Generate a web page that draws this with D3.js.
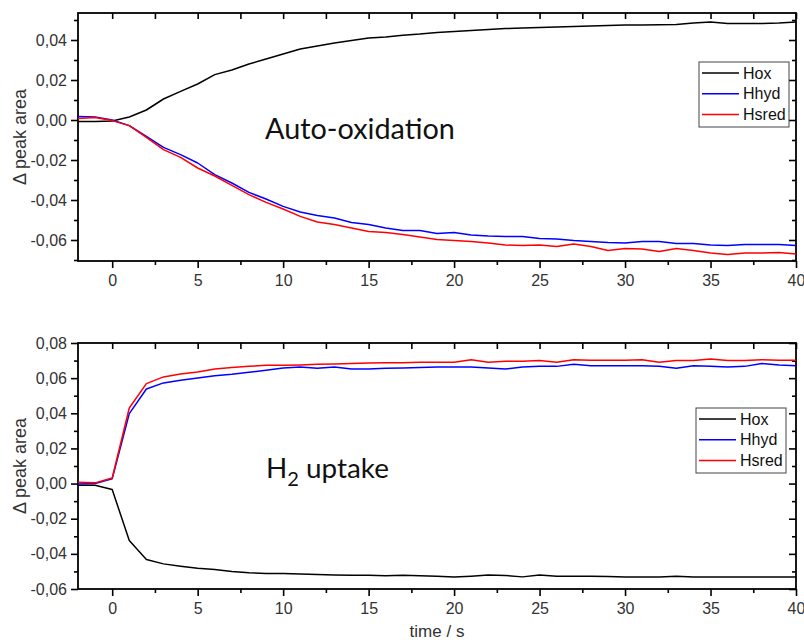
<!DOCTYPE html>
<html>
<head>
<meta charset="utf-8">
<script src="https://cdn.jsdelivr.net/npm/d3@7"></script>
<style>
  body { margin: 0; background: #fff; }
  text { font-family: "Liberation Sans", Arial, sans-serif; }
</style>
</head>
<body>
<svg width="804" height="644"></svg>
<script>

// time axis, seconds
var time = [-2, -1, 0, 1, 2, 3, 4, 5, 6, 7, 8, 9, 10, 11, 12, 13, 14, 15, 16, 17, 18, 19,
            20, 21, 22, 23, 24, 25, 26, 27, 28, 29, 30, 31, 32, 33, 34, 35, 36, 37, 38, 39, 40];

// auto-oxidation panel
var oxHox = [-0.0007, -0.0007, -0.0005, 0.0015, 0.0050, 0.0105, 0.0143, 0.0180, 0.0227, 0.0250,
             0.0280, 0.0305, 0.0330, 0.0355, 0.0370, 0.0385, 0.0397, 0.0410, 0.0415, 0.0424,
             0.0430, 0.0438, 0.0442, 0.0447, 0.0452, 0.0457, 0.0460, 0.0463, 0.0465, 0.0468,
             0.0470, 0.0472, 0.0475, 0.0475, 0.0476, 0.0477, 0.0485, 0.0490, 0.0482, 0.0482,
             0.0482, 0.0485, 0.0490];
var oxHhyd = [0.0018, 0.0015, 0.0000, -0.0028, -0.0082, -0.0137, -0.0173, -0.0215, -0.0273, -0.0315,
              -0.0362, -0.0395, -0.0432, -0.0460, -0.0478, -0.0490, -0.0512, -0.0523, -0.0540, -0.0552,
              -0.0552, -0.0568, -0.0562, -0.0575, -0.0580, -0.0582, -0.0582, -0.0592, -0.0595, -0.0602,
              -0.0607, -0.0612, -0.0615, -0.0607, -0.0608, -0.0618, -0.0618, -0.0625, -0.0628, -0.0623,
              -0.0623, -0.0623, -0.0627];
var oxHsred = [0.0008, 0.0012, -0.0003, -0.0028, -0.0087, -0.0148, -0.0187, -0.0240, -0.0280, -0.0327,
               -0.0373, -0.0412, -0.0445, -0.0482, -0.0510, -0.0523, -0.0540, -0.0557, -0.0562, -0.0573,
               -0.0585, -0.0598, -0.0602, -0.0607, -0.0615, -0.0625, -0.0628, -0.0625, -0.0632, -0.0620,
               -0.0632, -0.0652, -0.0642, -0.0645, -0.0658, -0.0642, -0.0652, -0.0665, -0.0673, -0.0665,
               -0.0665, -0.0662, -0.0670];

// H2 uptake panel
var h2Hox = [-0.0009, -0.0009, -0.0034, -0.0324, -0.0432, -0.0457, -0.0470, -0.0482, -0.0489, -0.0500,
             -0.0508, -0.0512, -0.0512, -0.0514, -0.0518, -0.0520, -0.0522, -0.0522, -0.0524, -0.0522,
             -0.0524, -0.0527, -0.0531, -0.0527, -0.0521, -0.0523, -0.0531, -0.0521, -0.0527, -0.0527,
             -0.0527, -0.0529, -0.0531, -0.0531, -0.0531, -0.0527, -0.0531, -0.0531, -0.0531, -0.0531,
             -0.0531, -0.0531, -0.0531];
var h2Hhyd = [-0.0002, 0.0000, 0.0027, 0.0398, 0.0538, 0.0573, 0.0588, 0.0601, 0.0614, 0.0622,
              0.0633, 0.0645, 0.0658, 0.0664, 0.0656, 0.0664, 0.0652, 0.0652, 0.0656, 0.0658,
              0.0660, 0.0664, 0.0664, 0.0664, 0.0658, 0.0652, 0.0664, 0.0667, 0.0667, 0.0679,
              0.0671, 0.0671, 0.0671, 0.0671, 0.0667, 0.0656, 0.0671, 0.0667, 0.0664, 0.0667,
              0.0683, 0.0675, 0.0671];
var h2Hsred = [0.0008, 0.0004, 0.0032, 0.0430, 0.0569, 0.0607, 0.0624, 0.0635, 0.0652, 0.0660,
               0.0667, 0.0673, 0.0673, 0.0675, 0.0679, 0.0681, 0.0684, 0.0686, 0.0688, 0.0688,
               0.0690, 0.0690, 0.0690, 0.0705, 0.0690, 0.0696, 0.0696, 0.0700, 0.0690, 0.0705,
               0.0702, 0.0702, 0.0702, 0.0705, 0.0690, 0.0700, 0.0700, 0.0709, 0.0700, 0.0700,
               0.0705, 0.0702, 0.0702];

var seriesNames = ["Hox", "Hhyd", "Hsred"];
var seriesColors = ["#000000", "#0000ff", "#ff0000"];

var xMajor = [0, 5, 10, 15, 20, 25, 30, 35, 40];
var xMinor = [2.5, 7.5, 12.5, 17.5, 22.5, 27.5, 32.5, 37.5];
var xAll = [0, 2.5, 5, 7.5, 10, 12.5, 15, 17.5, 20, 22.5, 25, 27.5, 30, 32.5, 35, 37.5, 40];

var oxYMajor = [-0.06, -0.04, -0.02, 0.00, 0.02, 0.04];
var oxYMinor = [-0.07, -0.05, -0.03, -0.01, 0.01, 0.03, 0.05];
var h2YMajor = [-0.06, -0.04, -0.02, 0.00, 0.02, 0.04, 0.06, 0.08];
var h2YMinor = [-0.05, -0.03, -0.01, 0.01, 0.03, 0.05, 0.07];


var svg = d3.select("svg");
var left = 78, right = 796;

var fmt = function(d) {
    return d3.format(".2f")(d).replace(".", ",").replace("\u2212", "-");
};

function drawPanel(cfg) {
    var x = d3.scaleLinear().domain([-2, 40]).range([left, right]);
    var y = d3.scaleLinear().domain(cfg.yDomain).range([cfg.bottom, cfg.top]);
    var g = svg.append("g");

    // left axis (outward ticks)
    g.append("g")
        .attr("class", "axis")
        .attr("transform", "translate(" + left + ",0)")
        .call(d3.axisLeft(y).tickValues(cfg.yMajor).tickSize(7).tickPadding(4).tickFormat(fmt));
    g.append("g")
        .attr("class", "axis")
        .attr("transform", "translate(" + left + ",0)")
        .call(d3.axisLeft(y).tickValues(cfg.yMinor).tickSize(4).tickFormat(""));

    // right axis, ticks pointing into the plot
    g.append("g")
        .attr("class", "axis")
        .attr("transform", "translate(" + right + ",0)")
        .call(d3.axisLeft(y).tickValues(cfg.yMajor).tickSize(7).tickFormat(""));
    g.append("g")
        .attr("class", "axis")
        .attr("transform", "translate(" + right + ",0)")
        .call(d3.axisLeft(y).tickValues(cfg.yMinor).tickSize(4).tickFormat(""));

    // bottom axis
    g.append("g")
        .attr("class", "axis")
        .attr("transform", "translate(0," + cfg.bottom + ")")
        .call(d3.axisBottom(x).tickValues(xMajor).tickSize(7).tickPadding(7).tickFormat(d3.format("d")));
    g.append("g")
        .attr("class", "axis")
        .attr("transform", "translate(0," + cfg.bottom + ")")
        .call(d3.axisBottom(x).tickValues(xMinor).tickSize(4).tickFormat(""));

    // top axis, ticks pointing down
    g.append("g")
        .attr("class", "axis")
        .attr("transform", "translate(0," + cfg.top + ")")
        .call(d3.axisBottom(x).tickValues(xAll).tickSize(6).tickFormat(""));

    g.selectAll(".axis .domain").remove();
    g.selectAll(".axis line").attr("stroke", "#000").attr("stroke-width", 1.6);
    g.selectAll(".axis text")
        .attr("fill", "#333")
        .style("font-size", "16px")
        .style("font-family", "'Liberation Sans', Arial, sans-serif");

    // frame
    g.append("rect")
        .attr("x", left)
        .attr("y", cfg.top)
        .attr("width", right - left)
        .attr("height", cfg.bottom - cfg.top)
        .attr("fill", "none")
        .attr("stroke", "#000")
        .attr("stroke-width", 1.8);

    // y title
    g.append("text")
        .attr("transform", "translate(21," + ((cfg.top + cfg.bottom) / 2) + ") rotate(-90)")
        .attr("text-anchor", "middle")
        .attr("dominant-baseline", "middle")
        .attr("fill", "#333")
        .style("font-size", "18px")
        .text("\u0394 peak area");

    // data lines
    var line = d3.line()
        .x(function(d, i) { return x(time[i]); })
        .y(function(d) { return y(d); });

    g.append("g")
        .selectAll("path")
        .data(cfg.series)
        .enter().append("path")
          .attr("d", function(d) { return line(d); })
          .attr("fill", "none")
          .attr("stroke", function(d, i) { return seriesColors[i]; })
          .attr("stroke-width", 1.5)
          .attr("stroke-linejoin", "round");

    // legend
    var lg = g.append("g").attr("transform", "translate(" + cfg.legend.x + "," + cfg.legend.y + ")");
    lg.append("rect")
        .attr("x", 0)
        .attr("y", 0)
        .attr("width", 90)
        .attr("height", 65)
        .attr("fill", "#fff")
        .attr("stroke", "#444")
        .attr("stroke-width", 1);
    var items = lg.selectAll("g.item")
        .data(seriesNames)
        .enter().append("g")
          .attr("class", "item")
          .attr("transform", function(d, i) { return "translate(0," + (11 + i * 20.7) + ")"; });
    items.append("line")
        .attr("x1", 3)
        .attr("x2", 40)
        .attr("stroke", function(d, i) { return seriesColors[i]; })
        .attr("stroke-width", 1.5);
    items.append("text")
        .attr("x", 44)
        .attr("dy", "0.36em")
        .attr("fill", "#111")
        .style("font-size", "16px")
        .text(function(d) { return d; });

    return g;
}

var top1 = drawPanel({
    top: 13, bottom: 261,
    yDomain: [-0.0705, 0.0535],
    yMajor: oxYMajor, yMinor: oxYMinor,
    series: [oxHox, oxHhyd, oxHsred],
    legend: { x: 699, y: 62 }
});

var bottom1 = drawPanel({
    top: 343, bottom: 589,
    yDomain: [-0.06, 0.08],
    yMajor: h2YMajor, yMinor: h2YMinor,
    series: [h2Hox, h2Hhyd, h2Hsred],
    legend: { x: 696, y: 408 }
});

// x title
svg.append("text")
    .attr("x", (left + right) / 2)
    .attr("y", 633)
    .attr("text-anchor", "middle")
    .attr("dominant-baseline", "middle")
    .attr("fill", "#333")
    .style("font-size", "17px")
    .text("time / s");

// annotations
var auto = svg.append("text")
    .attr("x", 265)
    .attr("y", 139)
    .attr("fill", "#111")
    .style("font-family", "Lato, 'Open Sans', sans-serif")
    .style("font-size", "30px")
    .text("Auto-oxidation");
var w1 = auto.node().getComputedTextLength();
auto.style("font-size", (30 * 190 / w1) + "px");

var s = 26;
var h2 = svg.append("text")
    .attr("x", 266)
    .attr("y", 477.7)
    .attr("fill", "#111")
    .style("font-family", "Lato, 'Open Sans', sans-serif")
    .style("font-size", s + "px");
h2.append("tspan").text("H");
h2.append("tspan").attr("dy", s * 0.28).style("font-size", (s * 0.72) + "px").text("2");
h2.append("tspan").attr("dy", -s * 0.28).text(" uptake");
var w2 = h2.node().getComputedTextLength();
s = s * 123 / w2;
h2.style("font-size", s + "px");
h2.selectAll("tspan").filter(function(d, i) { return i == 1; })
    .attr("dy", s * 0.28).style("font-size", (s * 0.72) + "px");
h2.selectAll("tspan").filter(function(d, i) { return i == 2; })
    .attr("dy", -s * 0.28);

</script>
</body>
</html>
